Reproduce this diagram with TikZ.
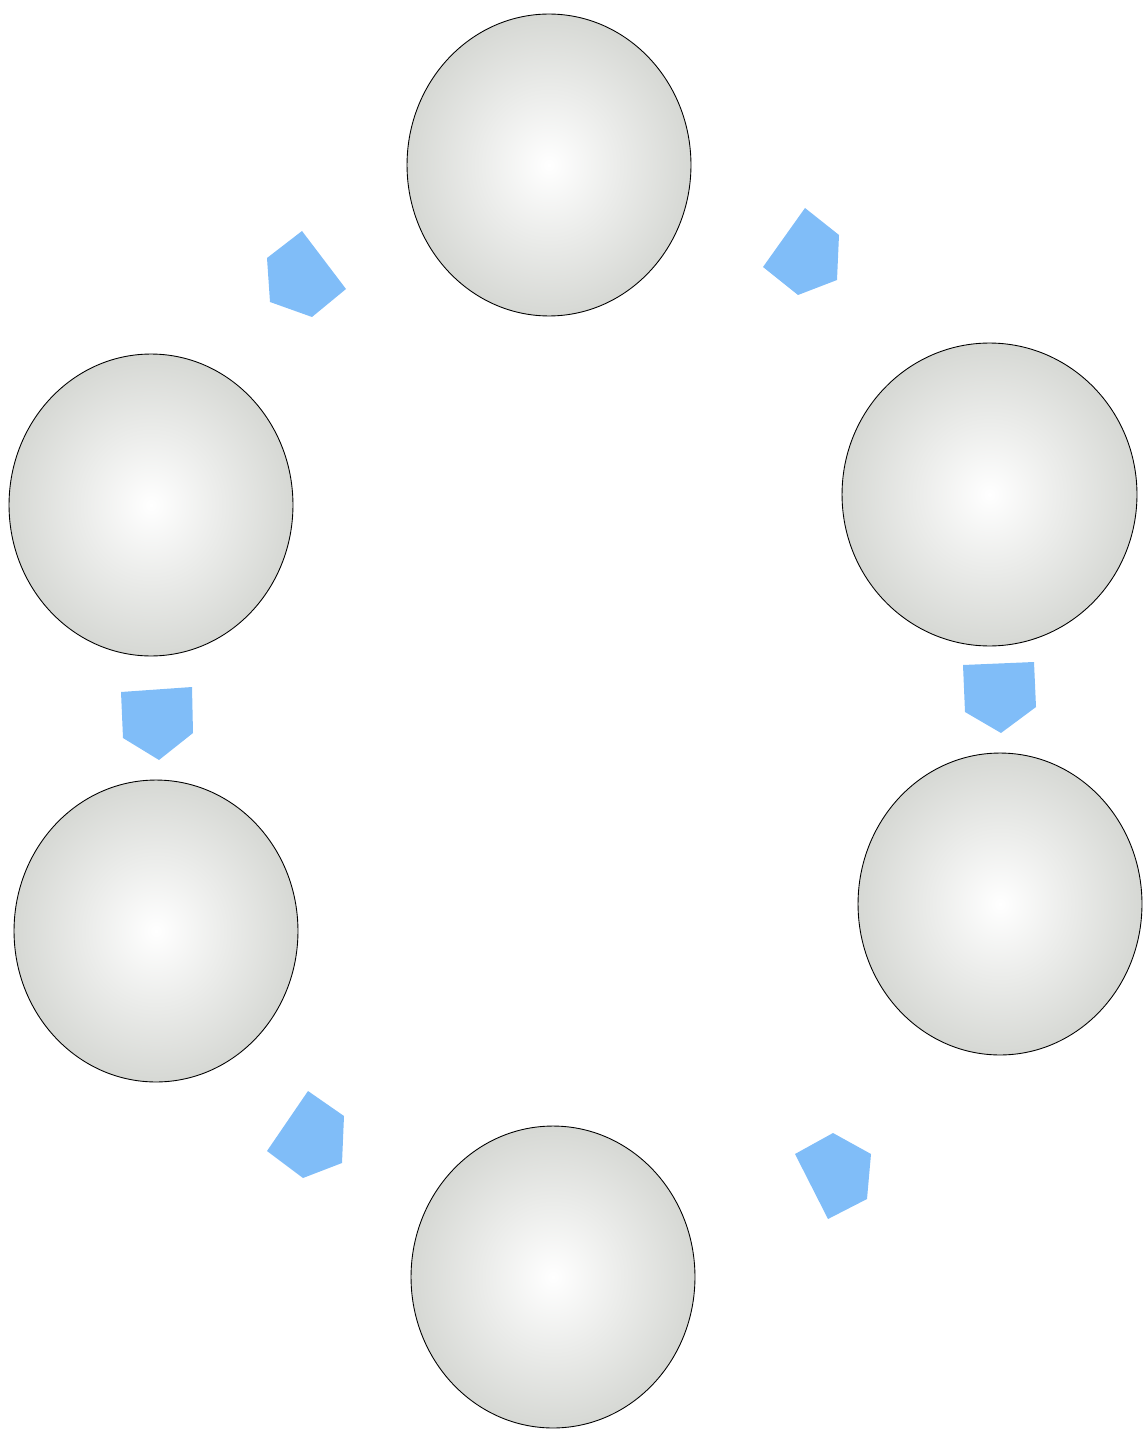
\documentclass[tikz,border=0pt]{standalone}
\usepackage{tikz}
\usetikzlibrary{shapes.geometric}
\usepackage{xcolor}
\definecolor{BallEdge}{HTML}{D6D8D4}
\definecolor{FlowBlue}{HTML}{80BDF8}

\tikzset{
  ball/.style={ellipse,draw=black,line width=0.5pt,shading=radial,
    inner color=white,outer color=BallEdge,inner sep=0pt,
    minimum width=5.68cm,minimum height=6.04cm},
  flow/.style={fill=FlowBlue,draw=none}
}

\begin{document}
\begin{tikzpicture}[x=0.02cm,y=-0.02cm]
\useasboundingbox (0,0) rectangle (1144,1429);
% the six balls
\node[ball] (top) at (549,165) {};
\node[ball] (upleft) at (151,505) {};
\node[ball,minimum width=5.9cm,minimum height=6.06cm] (upright) at (989.5,494.5) {};
\node[ball] (lowleft) at (156,931) {};
\node[ball] (lowright) at (1000,904) {};
\node[ball] (bottom) at (553,1277) {};
% flow marks between them
\fill[flow] (302,231) -- (346,289) -- (312,317) -- (270,302) -- (267,258) -- cycle;
\fill[flow] (805,208) -- (839,235) -- (837,280) -- (798,295) -- (763,267) -- cycle;
\fill[flow] (121,692) -- (192,687) -- (193,733) -- (159,760) -- (123,738) -- cycle;
\fill[flow] (963,665) -- (1034,662) -- (1036,707) -- (1001,733) -- (965,712) -- cycle;
\fill[flow] (308,1091) -- (344,1116) -- (342,1163) -- (303,1178) -- (267,1151) -- cycle;
\fill[flow] (833,1133) -- (871,1154) -- (867,1199) -- (828,1219) -- (795,1154) -- cycle;
\end{tikzpicture}
\end{document}
